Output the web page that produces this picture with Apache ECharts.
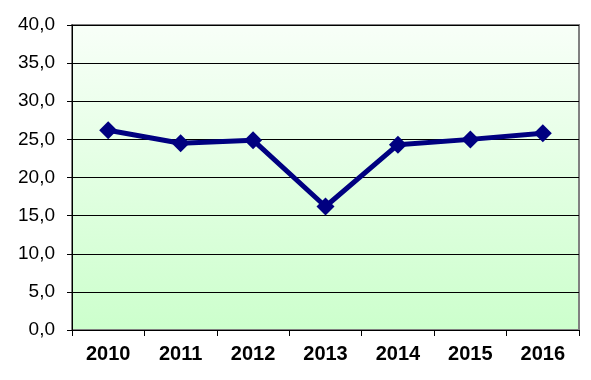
<!DOCTYPE html>
<html>
<head>
<meta charset="utf-8">
<script src="https://cdn.jsdelivr.net/npm/echarts@6/dist/echarts.min.js"></script>
<style>
html,body{margin:0;padding:0;background:#fff;}
#c{width:591px;height:380px;}
</style>
</head>
<body>
<div id="c"></div>
<script>
const categories = ['2010','2011','2012','2013','2014','2015','2016'];
const values = [26.2, 24.5, 24.9, 16.2, 24.3, 25.0, 25.8];
const yTicks = [0, 5, 10, 15, 20, 25, 30, 35, 40];

const chart = echarts.init(document.getElementById('c'), null, {renderer:'canvas'});
chart.setOption({
  animation: false,
  backgroundColor: '#ffffff',
  grid: {
    left: 72, right: 12, top: 25, bottom: 50,
    show: true,
    borderColor: '#808080',
    borderWidth: 2,
    backgroundColor: {
      type: 'linear', x: 0, y: 0, x2: 0, y2: 1,
      colorStops: [{offset: 0, color: '#f8fff8'}, {offset: 1, color: '#ccffcc'}]
    }
  },
  xAxis: {
    type: 'category',
    data: categories,
    boundaryGap: true,
    axisLine: {show: true, lineStyle: {color: '#000', width: 1}},
    axisTick: {show: true, length: 6, lineStyle: {color: '#000'}},
    axisLabel: {
      fontFamily: 'Liberation Sans', fontWeight: 'bold', fontSize: 20,
      color: '#000', margin: 14
    },
    splitLine: {show: false}
  },
  yAxis: {
    type: 'value',
    min: yTicks[0], max: yTicks[yTicks.length - 1], interval: 5,
    axisLine: {show: true, lineStyle: {color: '#000', width: 1}},
    axisTick: {show: true, length: 5, lineStyle: {color: '#000'}},
    axisLabel: {
      fontFamily: 'Liberation Sans', fontSize: 19, color: '#000', margin: 17,
      formatter: v => v.toFixed(1).replace('.', ',')
    },
    splitLine: {show: true, lineStyle: {color: '#000', width: 1}}
  },
  series: [{
    type: 'line',
    data: values,
    symbol: 'diamond',
    symbolSize: 18,
    lineStyle: {color: '#000080', width: 5},
    itemStyle: {color: '#000080'}
  }]
});
</script>
</body>
</html>
